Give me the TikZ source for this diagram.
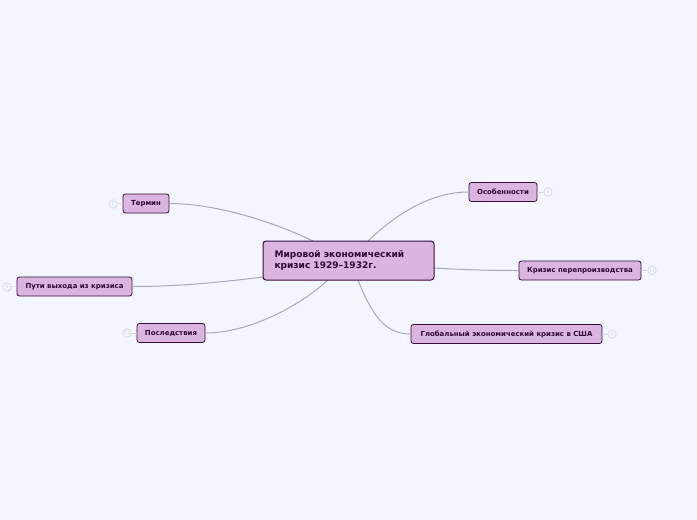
\documentclass[tikz,border=0pt]{standalone}
\usepackage{fontspec}
\setmainfont{DejaVu Sans}
\definecolor{bg}{HTML}{F3F6FE}
\definecolor{boxfill}{HTML}{D9B5E0}
\definecolor{boxline}{HTML}{3A0A3E}
\definecolor{txt}{HTML}{2E0A32}
\definecolor{conn}{HTML}{A8A8B8}
\definecolor{cnt}{HTML}{D2D2DA}
\begin{document}
\begin{tikzpicture}[x=1pt,y=-1pt,
  topic/.style={draw=boxline,fill=boxfill,rounded corners=2.5pt,line width=0.8pt,
     text=txt,font=\bfseries\fontsize{6.95}{8}\selectfont,inner sep=0pt,minimum height=19pt,align=center},
  central/.style={draw=boxline,fill=boxfill,rounded corners=3pt,line width=1pt,
     text=txt,font=\bfseries\fontsize{9.05}{11.5}\selectfont,inner sep=0pt,align=left,text width=148pt,
     minimum width=171pt,minimum height=39pt},
  counter/.style={circle,draw=cnt,fill=bg,line width=0.6pt,minimum size=8.5pt,inner sep=0pt,
     text=cnt,font=\fontsize{4.5}{5}\selectfont},
  link/.style={draw=conn,line width=1pt},
  stub/.style={draw=cnt,line width=0.6pt}]
\fill[bg] (0,0) rectangle (697,520);
\useasboundingbox (0,0) rectangle (697,520);

% connectors
\coordinate (cT) at (313,241);
\coordinate (cO) at (368,241);
\coordinate (cK) at (434,268);
\coordinate (cG) at (358,280);
\coordinate (cP) at (328,280);
\coordinate (cW) at (263,277);

\node[topic,minimum width=46pt] (term) at (146,203.5) {Термин};
\node[topic,minimum width=115pt] (puti) at (74.5,286.5) {Пути выхода из кризиса};
\node[topic,minimum width=68pt] (posl) at (171,333) {Последствия};
\node[topic,minimum width=68pt] (osob) at (503,192) {Особенности};
\node[topic,minimum width=122pt] (kriz) at (580,270.5) {Кризис перепроизводства};
\node[topic,minimum width=191pt] (glob) at (506.5,334) {Глобальный экономический кризис в США};

\draw[link] (cT) .. controls (265,218) and (210,203.5) .. (term.east);
\draw[link] (cO) .. controls (395,215) and (430,192) .. (osob.west);
\draw[link] (cK) .. controls (470,270) and (490,270.5) .. (kriz.west);
\draw[link] (cG) .. controls (372,315) and (385,334) .. (glob.west);
\draw[link] (cP) .. controls (295,310) and (245,333) .. (posl.east);
\draw[link] (cW) .. controls (215,283) and (175,286.5) .. (puti.east);

\node[central] (main) at (348.5,260.5) {Мировой экономический\\кризис 1929–1932г.};

% collapsed-branch counters
\node[counter] (nT) at (113,204) {1};
\node[counter] (nW) at (7,287) {4};
\node[counter] (nP) at (127,333) {11};
\node[counter] (nO) at (548,192) {4};
\node[counter] (nK) at (652,270.5) {11};
\node[counter] (nG) at (612,334) {3};
\draw[stub] (nT) -- (term.west);
\draw[stub] (nW) -- (puti.west);
\draw[stub] (nP) -- (posl.west);
\draw[stub] (nO) -- (osob.east);
\draw[stub] (nK) -- (kriz.east);
\draw[stub] (nG) -- (glob.east);
\end{tikzpicture}
\end{document}
